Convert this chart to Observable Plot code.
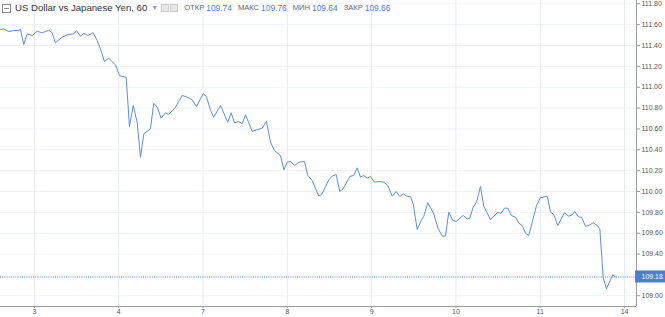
<!DOCTYPE html>
<html><head><meta charset="utf-8">
<script src="https://cdn.jsdelivr.net/npm/d3@7"></script>
<script src="https://cdn.jsdelivr.net/npm/@observablehq/plot@0.6"></script>
<style>
body{margin:0;background:#fff;}
#wrap{position:relative;width:665px;height:317px;overflow:hidden;}
#legend{position:absolute;left:2px;top:2px;height:12px;line-height:12px;white-space:nowrap;font-family:"Liberation Sans",Arial,sans-serif;color:#333;display:flex;align-items:center;}
#legend .ttl{font-size:9.6px;color:#333;margin-left:4px;}
#legend .arr{font-size:7px;color:#999;margin-left:4px;}
#legend .ico{display:inline-block;width:6px;height:6px;border:1px solid #ccc;background:#e6e6e6;margin-left:3px;}
#legend .lab{font-size:7.6px;color:#666;margin-left:6px;}
#legend .val{font-size:8.4px;color:#4a7fd6;margin-left:2px;}
#legend .box{display:inline-block;width:7px;height:7px;border:1px solid #888;position:relative;}
#legend .box::after{content:"";position:absolute;left:1px;right:1px;top:3px;height:1px;background:#888;}
</style></head><body>
<div id="wrap"><div id="legend"></div></div>
<script>
const titleText = "US Dollar vs Japanese Yen, 60";
const ohlcLabels = ["ОТКР", "МАКС", "МИН", "ЗАКР"];
const ohlcValues = [109.74, 109.76, 109.64, 109.66];
const lastPrice = 109.18;

const dayLabels = ["3", "4", "7", "8", "9", "10", "11", "14"];
const dayPos = [0, 1, 2, 3, 4, 5, 6, 7];
const yGrid = [109.0, 109.2, 109.4, 109.6, 109.8, 110.0, 110.2, 110.4, 110.6, 110.8, 111.0, 111.2, 111.4, 111.6, 111.8];
// 109.20 label is hidden behind the last-price tag in the original
const yLabels = [109.0, 109.4, 109.6, 109.8, 110.0, 110.2, 110.4, 110.6, 110.8, 111.0, 111.2, 111.4, 111.6, 111.8];

// time in trading-day units (0 = day "3"), hourly closes
const t = [-0.403,-0.364,-0.305,-0.246,-0.186,-0.166,-0.127,-0.087,-0.027,0.032,
0.091,0.170,0.210,0.249,0.329,0.388,0.466,0.498,0.546,0.585,
0.632,0.696,0.744,0.783,0.830,0.881,0.961,1.008,1.048,1.088,
1.127,1.171,1.218,1.258,1.297,1.376,1.415,1.456,1.503,1.554,
1.593,1.673,1.752,1.812,1.871,1.922,2.001,2.041,2.088,2.127,
2.207,2.293,2.334,2.373,2.424,2.464,2.503,2.583,2.701,2.752,
2.800,2.847,2.918,2.958,2.998,3.037,3.085,3.136,3.203,3.242,
3.295,3.373,3.413,3.492,3.532,3.579,3.622,3.662,3.741,3.788,
3.828,3.868,3.907,3.947,3.986,4.034,4.073,4.144,4.192,4.244,
4.291,4.334,4.374,4.413,4.461,4.493,4.540,4.588,4.619,4.666,
4.737,4.785,4.837,4.876,4.915,4.963,5.003,5.086,5.134,5.164,
5.204,5.244,5.291,5.330,5.410,5.489,5.537,5.576,5.615,5.655,
5.707,5.746,5.786,5.825,5.864,5.917,5.956,6.003,6.083,6.122,
6.161,6.209,6.288,6.339,6.379,6.410,6.458,6.490,6.537,6.576,
6.628,6.676,6.707,6.747,6.786,6.860,6.893];
const price = [111.554,111.560,111.534,111.544,111.544,111.556,111.410,111.512,111.496,111.537,
111.522,111.547,111.522,111.426,111.480,111.503,111.512,111.544,111.489,111.518,
111.496,111.522,111.448,111.368,111.247,111.278,111.215,111.112,111.103,111.096,
110.623,110.825,110.665,110.329,110.553,110.601,110.847,110.809,110.703,110.755,
110.738,110.809,110.921,110.905,110.879,110.815,110.937,110.911,110.777,110.713,
110.825,110.665,110.755,110.659,110.671,110.649,110.736,110.578,110.607,110.674,
110.473,110.393,110.345,110.208,110.281,110.288,110.249,110.281,110.288,110.154,
110.106,109.955,109.978,110.112,110.147,110.163,110.000,110.026,110.144,110.154,
110.227,110.137,110.154,110.128,110.144,110.089,110.096,110.089,110.058,109.955,
110.000,109.952,109.978,109.955,109.952,109.882,109.636,109.722,109.763,109.892,
109.786,109.652,109.572,109.572,109.802,109.722,109.713,109.770,109.738,109.744,
109.850,109.898,110.048,109.859,109.729,109.796,109.792,109.840,109.840,109.770,
109.754,109.696,109.674,109.600,109.578,109.744,109.866,109.940,109.955,109.802,
109.780,109.674,109.796,109.763,109.777,109.808,109.754,109.754,109.667,109.674,
109.700,109.674,109.642,109.173,109.067,109.201,109.180];

const xDomain = [-0.403, 7.142];
const yDomain = [108.897, 111.832];

// legend
const lg = document.getElementById("legend");
lg.innerHTML = '<span class="box"></span><span class="ttl"></span><span class="arr">▼</span><span class="ico"></span><span class="ico" style="margin-left:1px"></span>';
lg.querySelector(".ttl").textContent = titleText;
ohlcLabels.forEach((l, i) => {
  const a = document.createElement("span"); a.className = "lab"; a.textContent = l; lg.appendChild(a);
  const b = document.createElement("span"); b.className = "val"; b.textContent = ohlcValues[i].toFixed(2); lg.appendChild(b);
});

const data = t.map((x, i) => ({x, y: price[i]}));
const fmt = d3.format(".2f");
const axisColor = "#9a9a9a";
const blue = "#4a7fd6";
const edge = () => xDomain[1];

const plot = Plot.plot({
  width: 665, height: 317,
  marginLeft: 0, marginRight: 29, marginTop: 0, marginBottom: 11,
  style: {fontFamily: "Liberation Sans, Arial, sans-serif", fontSize: "7px", color: "#555", background: "#fff", overflow: "visible"},
  x: {domain: xDomain, axis: null},
  y: {domain: yDomain, axis: null},
  marks: [
    Plot.gridY(yGrid, {stroke: "#edf1f6", strokeOpacity: 1}),
    Plot.gridX(dayPos, {stroke: "#e4ebf4", strokeOpacity: 1}),
    Plot.ruleY([lastPrice], {stroke: blue, strokeDasharray: "1,1.2", strokeWidth: 1}),
    Plot.line(data, {x: "x", y: "y", stroke: "#5b8ee0", strokeWidth: 1}),
    Plot.ruleX([xDomain[1]], {stroke: axisColor}),
    Plot.ruleY([yDomain[0]], {stroke: axisColor}),
    Plot.axisY(yLabels, {anchor: "right", tickSize: 3, tickPadding: 2, tickFormat: fmt, stroke: axisColor, fill: "#555", label: null}),
    Plot.axisX(dayPos, {anchor: "bottom", tickSize: 2, tickPadding: 1, tickFormat: i => dayLabels[i], stroke: axisColor, fill: "#555", label: null}),
    // last-price tag
    Plot.rect([lastPrice], {x1: edge, x2: edge, y1: d => d, y2: d => d, insetLeft: -1, insetRight: -29, insetTop: -6, insetBottom: -6, fill: blue}),
    Plot.text([lastPrice], {x: edge, y: d => d, text: d => fmt(d), textAnchor: "start", dx: 5, fill: "white", fontSize: 7})
  ]
});
document.getElementById("wrap").insertBefore(plot, lg);
</script>
</body></html>
